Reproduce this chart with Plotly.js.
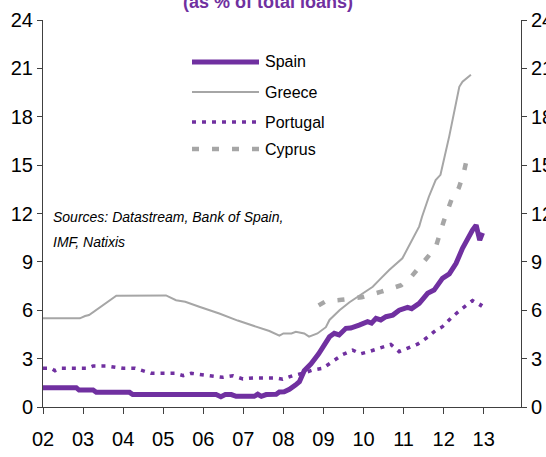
<!DOCTYPE html>
<html>
<head>
<meta charset="utf-8">
<script src="https://cdn.plot.ly/plotly-3.0.1.min.js"></script>
<style>html,body{margin:0;padding:0;background:#fff;}#chart{width:546px;height:457px;}</style>
</head>
<body>
<div id="chart"></div>
<script>
// ---- data (decimal year, % of total loans) ----
var spainX = [2002.0,2002.83,2002.9,2003.25,2003.33,2004.16,2004.24,2006.32,2006.44,2006.55,2006.7,2006.82,2007.27,2007.36,2007.45,2007.57,2007.82,2007.9,2008.02,2008.15,2008.3,2008.4,2008.52,2008.69,2008.88,2009.04,2009.15,2009.27,2009.39,2009.56,2009.68,2009.89,2010.1,2010.2,2010.31,2010.43,2010.56,2010.73,2010.89,2011.1,2011.2,2011.39,2011.6,2011.76,2011.97,2012.14,2012.31,2012.47,2012.6,2012.72,2012.81,2012.85,2012.9,2012.97];
var spainY = [1.2,1.2,1.05,1.05,0.91,0.91,0.77,0.77,0.64,0.77,0.77,0.66,0.66,0.79,0.66,0.77,0.79,0.93,0.95,1.1,1.36,1.57,2.25,2.68,3.3,4.0,4.35,4.57,4.47,4.88,4.9,5.08,5.29,5.2,5.5,5.4,5.6,5.7,6.0,6.18,6.1,6.43,7.05,7.25,7.98,8.25,8.91,9.84,10.46,10.97,11.28,10.9,10.35,10.8];

var greeceX = [2002.0,2002.92,2003.05,2003.15,2003.83,2005.07,2005.32,2005.55,2005.9,2006.4,2006.86,2007.32,2007.65,2007.9,2008.0,2008.2,2008.31,2008.52,2008.64,2008.85,2009.06,2009.15,2009.4,2009.65,2009.85,2010.23,2010.39,2010.64,2010.97,2011.22,2011.39,2011.46,2011.63,2011.8,2011.92,2012.14,2012.39,2012.47,2012.68];
var greeceY = [5.5,5.5,5.64,5.7,6.9,6.92,6.62,6.53,6.22,5.8,5.36,4.98,4.71,4.42,4.56,4.56,4.67,4.56,4.36,4.56,4.95,5.4,6.0,6.5,6.84,7.46,7.87,8.49,9.22,10.35,11.2,11.8,13.04,14.07,14.4,16.8,19.86,20.17,20.6];

var portugalX = [2002.0,2002.2,2002.3,2002.45,2003.1,2003.25,2003.6,2003.8,2004.0,2004.3,2004.5,2004.7,2005.3,2005.5,2005.7,2005.98,2006.24,2006.49,2006.74,2006.99,2007.24,2007.82,2007.98,2008.23,2008.5,2008.73,2008.98,2009.23,2009.48,2009.73,2009.93,2010.18,2010.43,2010.68,2010.89,2011.14,2011.35,2011.56,2011.8,2011.97,2012.22,2012.47,2012.72,2012.92,2012.97];
var portugalY = [2.4,2.4,2.25,2.4,2.4,2.54,2.54,2.46,2.4,2.4,2.22,2.09,2.09,1.95,2.09,2.0,1.94,1.84,1.94,1.74,1.8,1.8,1.72,1.94,2.1,2.29,2.4,2.81,3.25,3.53,3.3,3.47,3.68,3.88,3.43,3.7,3.9,4.26,4.75,4.98,5.6,6.12,6.6,6.3,6.5];

var cyprusX = [2008.88,2009.05,2009.45,2009.95,2010.44,2010.94,2011.2,2011.41,2011.6,2011.8,2012.0,2012.2,2012.3,2012.38,2012.5,2012.57];
var cyprusY = [6.3,6.55,6.65,6.8,7.15,7.55,8.1,8.7,9.3,9.9,11.5,12.9,13.2,13.6,14.5,15.3];

var seriesNames = ["Spain","Greece","Portugal","Cyprus"];
var yearTicks = [2002,2003,2004,2005,2006,2007,2008,2009,2010,2011,2012,2013];
var yearLabels = ["02","03","04","05","06","07","08","09","10","11","12","13"];
var valueTicks = [0,3,6,9,12,15,18,21,24];
var titleText = "(as % of total loans)";
var sourceLines = ["Sources: Datastream, Bank of Spain,","IMF, Natixis"];

// ---- styling ----
var PURPLE = "#7030A0", GREY = "#A6A6A6", AXIS = "#404040";
var regular = "'Liberation Sans',Arial,sans-serif";

var M = {l:43, r:25, t:20, b:50};
var W = 546, H = 457;
var pw = W - M.l - M.r, ph = H - M.t - M.b;
function px(x){ return (x - M.l)/pw; }
function py(y){ return (H - M.b - y)/ph; }

var styles = {
  Spain:    {color:PURPLE, width:5},
  Greece:   {color:GREY, width:2},
  Portugal: {color:PURPLE, width:3.5, dash:"4px,6px"},
  Cyprus:   {color:GREY, width:4.5, dash:"7px,13px"}
};

var traces = [
  {x:greeceX, y:greeceY, name:seriesNames[1], mode:"lines", line:styles.Greece},
  {x:cyprusX, y:cyprusY, name:seriesNames[3], mode:"lines", line:styles.Cyprus},
  {x:portugalX, y:portugalY, name:seriesNames[2], mode:"lines", line:styles.Portugal},
  {x:spainX, y:spainY, name:seriesNames[0], mode:"lines", line:styles.Spain, yaxis:"y2"}
];

// manual legend (long line samples)
var legendY = [62, 92, 122, 149];
var shapes = [], annotations = [];
seriesNames.forEach(function(n, i){
  var s = styles[n];
  shapes.push({type:"line", xref:"paper", yref:"paper", x0:px(192), x1:px(259), y0:py(legendY[i]), y1:py(legendY[i]),
    line:{color:s.color, width:s.width, dash:s.dash || "solid"}});
  annotations.push({xref:"paper", yref:"paper", x:px(263), y:py(legendY[i]), xanchor:"left", yanchor:"middle",
    text:n, showarrow:false, font:{family:regular, size:16, color:"#000"}});
});
annotations.push({xref:"paper", yref:"paper", x:px(268), y:py(2), xanchor:"center", yanchor:"middle",
  text:"<b>"+titleText+"</b>", showarrow:false, font:{family:regular, size:18, color:PURPLE}});
annotations.push({xref:"paper", yref:"paper", x:px(51), y:py(217), xanchor:"left", yanchor:"middle",
  text:"<i>"+sourceLines[0]+"</i>", showarrow:false, font:{family:regular, size:14, color:"#000"}});
annotations.push({xref:"paper", yref:"paper", x:px(51), y:py(242), xanchor:"left", yanchor:"middle",
  text:"<i>"+sourceLines[1]+"</i>", showarrow:false, font:{family:regular, size:14, color:"#000"}});

var yax = {range:[0,24], tickvals:valueTicks, ticks:"outside", ticklen:5, tickcolor:AXIS, tickwidth:1,
  showline:true, linecolor:AXIS, linewidth:1, showgrid:false, zeroline:false, fixedrange:true,
  tickfont:{family:regular, size:20, color:"#000"}};
var yax2 = Object.assign({}, yax, {overlaying:"y", side:"right", anchor:"x"});

var layout = {
  width:W, height:H, margin:M, paper_bgcolor:"#fff", plot_bgcolor:"#fff", showlegend:false,
  xaxis:{range:[2002,2013.93], tickvals:yearTicks, ticktext:yearLabels, ticks:"outside", ticklen:6,
    tickcolor:AXIS, tickwidth:1, showline:true, linecolor:AXIS, linewidth:1, showgrid:false, zeroline:false,
    ticklabelstandoff:8, tickfont:{family:regular, size:20, color:"#000"}},
  yaxis:yax, yaxis2:yax2,
  shapes:shapes, annotations:annotations
};

Plotly.newPlot("chart", traces, layout, {staticPlot:true, displayModeBar:false});
</script>
</body>
</html>
